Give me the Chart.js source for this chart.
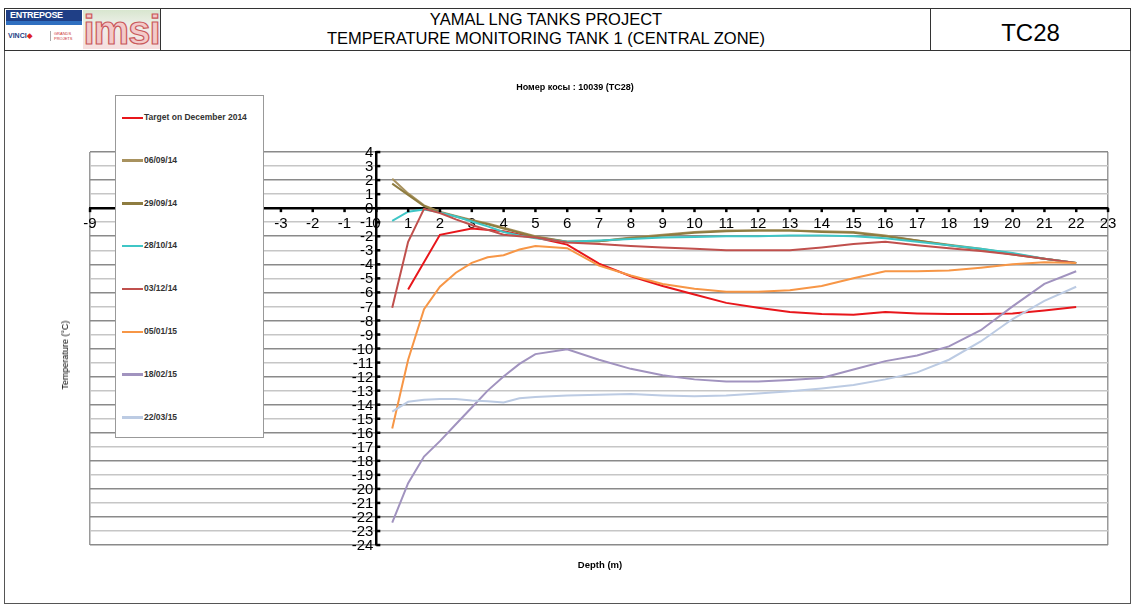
<!DOCTYPE html>
<html>
<head>
<meta charset="utf-8">
<title>TC28 temperature monitoring</title>
<script src="https://cdn.jsdelivr.net/npm/chart.js@4/dist/chart.umd.min.js"></script>
<style>
  body { margin:0; width:1133px; height:606px; background:#fff; position:relative; overflow:hidden;
         font-family:"Liberation Sans", Arial, sans-serif; color:#000; }
  .abs { position:absolute; }
  #frame { left:4px; top:50px; width:1125px; height:552px; border:1px solid #555; border-top:1.5px solid #444; }
  #hdr { left:4px; top:8px; width:1125px; height:41px; border:1.5px solid #333; }
  .vdiv { top:0; width:0; height:41px; border-left:1.5px solid #333; }
  .ttl { font-size:16.5px; text-align:center; width:770px; left:156px; line-height:19px; }
  #code { left:926px; width:199px; top:10px; text-align:center; font-size:24px; }
  #ent { left:1px; top:1px; width:76px; height:11px; background:#1f3f86; color:#fff; font-weight:bold;
         font-size:9px; line-height:11px; padding-left:4px; box-sizing:border-box; letter-spacing:-0.3px; }
  #ent2 { left:1px; top:12px; width:76px; height:4px; background:#2f6fc0; }
  #vinci { left:3px; top:23px; font-size:7px; font-weight:bold; color:#1f3f86; }
  #vinci b { color:#d22; }
  #gp { left:45px; top:22px; width:30px; height:10px; border-left:1px solid #aaa; font-size:4px; color:#c33; padding-left:3px; line-height:5px; }
  #imsi { left:78px; top:1px; width:77px; height:39px; background:linear-gradient(#d8e6cf 0%, #eef0ea 40%, #f6dede 100%);
          font-size:40px; font-weight:bold; line-height:40px; text-align:center; color:#f3c9c9;
          -webkit-text-stroke:1.2px #c9585a; letter-spacing:-1px; }
  canvas { position:absolute; left:0; top:0; }
  #legend { left:115px; top:95px; width:147px; height:341px; background:#fff; border:1.5px solid #999; z-index:2; }
  .li { position:absolute; left:6px; height:10px; font-size:8.5px; font-weight:bold; color:#333; line-height:10px; white-space:nowrap; }
  .li span { display:inline-block; width:21px; height:2.5px; vertical-align:middle; margin-right:1px; }
  .lbl { font-size:9px; z-index:1; white-space:nowrap; }
</style>
</head>
<body>
<div id="frame" class="abs"></div>
<div id="hdr" class="abs">
  <div id="ent" class="abs">ENTREPOSE</div>
  <div id="ent2" class="abs"></div>
  <div id="vinci" class="abs">VINCI<b>◆</b></div>
  <div id="gp" class="abs">GRANDS PROJETS</div>
  <div id="imsi" class="abs">imsi</div>
  <div class="abs vdiv" style="left:155px"></div>
  <div class="abs vdiv" style="left:925px"></div>
  <div class="abs ttl" style="top:1px">YAMAL LNG TANKS PROJECT</div>
  <div class="abs ttl" style="top:20px">TEMPERATURE MONITORING TANK 1 (CENTRAL ZONE)</div>
  <div id="code" class="abs">TC28</div>
</div>
<canvas id="chart" width="1133" height="606"></canvas>
<div id="legend" class="abs"></div>
<div class="abs lbl" style="left:0;width:1150px;top:82px;text-align:center;font-weight:bold;">Номер косы : 10039 (TC28)</div>
<div class="abs lbl" style="left:65px;top:355px;transform:translate(-50%,-50%) rotate(-90deg);">Temperature (°C)</div>
<div class="abs lbl" style="left:0;width:1200px;top:559px;text-align:center;font-weight:bold;font-size:9.5px;">Depth (m)</div>

<script>
// Sensor depths (m) along the thermocouple string
const depth = [0.5, 1, 1.5, 2, 2.5, 3, 3.5, 4, 4.5, 5, 6, 7, 8, 9, 10, 11, 12, 13, 14, 15, 16, 17, 18, 19, 20, 21, 22];
// Depths used by the design target profile
const targetDepth = [1, 2, 3, 4, 5, 6, 7, 8, 9, 10, 11, 12, 13, 14, 15, 16, 17, 18, 19, 20, 21, 22];

// Temperatures (°C)
const targetDec2014 = [-5.8, -1.9, -1.45, -1.65, -2.1, -2.6, -3.95, -4.85, -5.55, -6.15, -6.75, -7.1, -7.4, -7.55, -7.6, -7.4, -7.5, -7.55, -7.55, -7.5, -7.3, -7.05];
const t060914 = [2.1, 1.05, 0.2, -0.25, -0.55, -0.85, -1.1, -1.4, -1.7, -2.0, -2.4, -2.35, -2.1, -1.9, -1.7, -1.6, -1.6, -1.6, -1.65, -1.7, -1.95, -2.3, -2.6, -2.9, -3.25, -3.6, -3.9];
const t290914 = [1.75, 0.95, 0.15, -0.3, -0.6, -0.9, -1.15, -1.45, -1.75, -2.05, -2.4, -2.35, -2.15, -1.95, -1.75, -1.65, -1.6, -1.6, -1.7, -1.75, -2.0, -2.3, -2.65, -2.95, -3.3, -3.6, -3.9];
const t281014 = [-0.9, -0.25, -0.1, -0.3, -0.6, -0.95, -1.3, -1.7, -1.95, -2.15, -2.4, -2.3, -2.2, -2.1, -2.05, -2.0, -2.0, -1.95, -1.95, -2.0, -2.15, -2.4, -2.65, -2.9, -3.2, -3.6, -3.9];
const t031214 = [-7.1, -2.4, -0.05, -0.35, -0.8, -1.2, -1.55, -1.9, -2.0, -2.1, -2.45, -2.55, -2.7, -2.8, -2.9, -3.0, -3.0, -3.0, -2.8, -2.55, -2.4, -2.65, -2.85, -3.05, -3.3, -3.6, -3.9];
const t050115 = [-15.7, -10.8, -7.2, -5.6, -4.6, -3.9, -3.5, -3.35, -2.95, -2.7, -2.85, -4.1, -4.8, -5.4, -5.75, -5.95, -5.95, -5.85, -5.55, -5.0, -4.5, -4.5, -4.45, -4.25, -4.0, -3.85, -3.9];
const t180215 = [-22.4, -19.6, -17.7, -16.6, -15.4, -14.2, -13.0, -12.0, -11.1, -10.4, -10.05, -10.8, -11.45, -11.9, -12.2, -12.35, -12.35, -12.25, -12.1, -11.5, -10.9, -10.5, -9.85, -8.7, -7.0, -5.4, -4.5];
const t220315 = [-14.5, -13.8, -13.65, -13.6, -13.6, -13.7, -13.75, -13.85, -13.55, -13.45, -13.35, -13.3, -13.25, -13.35, -13.4, -13.35, -13.2, -13.05, -12.85, -12.6, -12.2, -11.7, -10.8, -9.5, -7.9, -6.6, -5.6];

const seriesNames = ['Target on December 2014', '06/09/14', '29/09/14', '28/10/14', '03/12/14', '05/01/15', '18/02/15', '22/03/15'];
const seriesColors = ['#e8161b', '#a8925f', '#8e7c40', '#3fc6c6', '#c0504d', '#f79646', '#a193bf', '#bccbe3'];
const seriesDepths = [targetDepth, depth, depth, depth, depth, depth, depth, depth];
const seriesValues = [targetDec2014, t060914, t290914, t281014, t031214, t050115, t180215, t220315];

// Axis ranges and tick step
const xMin = -9, xMax = 23, yMin = -24, yMax = 4, tickStep = 1;

const datasets = seriesNames.map((name, i) => ({
  label: name,
  data: seriesValues[i].map((v, k) => ({ x: seriesDepths[i][k], y: v })),
  borderColor: seriesColors[i],
  backgroundColor: seriesColors[i],
  borderWidth: 2,
  pointRadius: 0,
  tension: 0,
  fill: false,
  order: seriesNames.length - i
}));

// Legend box
const legendBox = document.getElementById('legend');
seriesNames.forEach((name, i) => {
  const d = document.createElement('div');
  d.className = 'li';
  d.style.top = (16 + i * 42.8) + 'px';
  d.innerHTML = '<span style="background:' + seriesColors[i] + '"></span>' + name;
  legendBox.appendChild(d);
});

const fontFamily = '"Liberation Sans", Arial, sans-serif';
const tickFont = { family: fontFamily, size: 15 };

// Inner tick marks on both axes, and the temperature labels set just left of the vertical axis
const axisDecor = {
  id: 'axisDecor',
  afterDraw(chart) {
    const { ctx, scales: { x, y } } = chart;
    const x0 = x.getPixelForValue(0), y0 = y.getPixelForValue(0);
    ctx.save();
    ctx.fillStyle = '#000';
    x.ticks.forEach(t => {
      const px = x.getPixelForValue(t.value);
      ctx.fillRect(px - 1.2, y0, 2.5, 4);
    });
    y.ticks.forEach(t => {
      const py = y.getPixelForValue(t.value);
      ctx.fillRect(x0, py - 1.2, 4, 2.5);
    });
    ctx.font = '15px ' + fontFamily;
    ctx.textAlign = 'right';
    ctx.textBaseline = 'middle';
    y.ticks.forEach(t => {
      ctx.fillText(String(t.value), x0 - 3, y.getPixelForValue(t.value) + 1);
    });
    ctx.restore();
  }
};

new Chart(document.getElementById('chart'), {
  type: 'line',
  data: { datasets },
  options: {
    responsive: false,
    animation: false,
    devicePixelRatio: 1,
    layout: { padding: { left: 90, right: 25, top: 152, bottom: 61 } },
    plugins: { legend: { display: false }, tooltip: { enabled: false } },
    scales: {
      x: {
        type: 'linear', min: xMin, max: xMax,
        position: { y: 0 },
        afterFit(s) { s.height = 0; },
        ticks: { stepSize: tickStep, color: '#000', font: tickFont, padding: 7, maxRotation: 0, autoSkip: false },
        grid: {
          drawTicks: false,
          lineWidth: 1.5,
          color: c => (c.tick && (c.tick.value === xMin || c.tick.value === xMax)) ? '#9a9a9a' : 'rgba(0,0,0,0)'
        },
        border: { display: true, color: '#000', width: 2.5 }
      },
      y: {
        type: 'linear', min: yMin, max: yMax,
        position: { x: 0 },
        afterFit(s) { s.width = 0; },
        ticks: { stepSize: tickStep, display: false, autoSkip: false },
        grid: {
          drawTicks: false,
          lineWidth: 1.5,
          color: c => (c.tick && Math.abs(c.tick.value) % 2 === 0) ? '#8a8a8a' : '#c6c6c6'
        },
        border: { display: true, color: '#000', width: 2.5 }
      }
    }
  },
  plugins: [axisDecor]
});
</script>
</body>
</html>
